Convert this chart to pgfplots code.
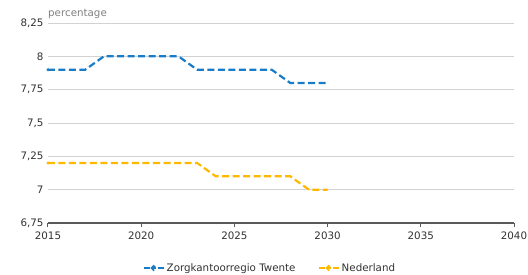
\documentclass[border=0pt]{standalone}
\usepackage{pgfplots}
\pgfplotsset{compat=1.18}
\usepackage{fontspec}
\setmainfont{DejaVu Sans}
\definecolor{cblue}{RGB}{24,124,200}
\definecolor{corange}{RGB}{255,184,0}
\definecolor{cgrid}{RGB}{210,210,210}
\definecolor{caxis}{RGB}{90,90,90}
\definecolor{ctext}{RGB}{50,50,50}
\begin{document}
\begin{tikzpicture}[x=1pt,y=1pt]
\begin{axis}[
  at={(48pt,52pt)}, anchor=south west,
  scale only axis, width=466pt, height=200pt,
  xmin=2015, xmax=2040, ymin=6.75, ymax=8.25,
  xtick={2015,2020,...,2040},
  ytick={6.75,7,7.25,7.5,7.75,8,8.25},
  yticklabels={{6,75},{7},{7,25},{7,5},{7,75},{8},{8,25}},
  /pgf/number format/1000 sep={},
  /pgf/number format/assume math mode=true,
  ticklabel style={font=\fontsize{10.3}{11}\selectfont, text=ctext},
  axis x line*=bottom, axis y line*=left,
  x axis line style={draw=caxis, line width=1.5pt, -},
  y axis line style={draw=none},
  ymajorgrids, grid style={cgrid, line width=0.8pt},
  xtick style={draw=caxis, line width=1pt},
  major x tick style={draw=caxis},
  xtick align=outside, tick pos=left,
  major tick length=4pt,
  ytick style={draw=none},
  yticklabel style={xshift=-1pt},
  xticklabel style={yshift=-1pt},
  clip=false,
  legend columns=2,
  legend style={at={(0.476,-0.225)}, anchor=center, draw=none, fill=none,
    font=\fontsize{10.3}{11}\selectfont, text=ctext,
    /tikz/every even column/.append style={column sep=20pt}},
  legend image code/.code={
    \draw[#1, solid] (0pt,0pt) -- (6pt,0pt);
    \draw[#1, solid] (8pt,0pt) -- (12pt,0pt);
    \draw[#1, solid] (14pt,0pt) -- (20pt,0pt);
    \fill[#1] (10pt,0pt) circle (1.6pt);
  },
]
\addplot[cblue, line width=2.2pt, dash pattern=on 7pt off 3.5pt] coordinates {
 (2015,7.9) (2016,7.9) (2017,7.9) (2018,8.0) (2019,8.0) (2020,8.0) (2021,8.0)
 (2022,8.0) (2023,7.9) (2024,7.9) (2025,7.9) (2026,7.9) (2027,7.9) (2028,7.8)
 (2029,7.8) (2030,7.8)};
\addlegendentry{Zorgkantoorregio Twente}
\addplot[corange, line width=2.2pt, dash pattern=on 7pt off 3.5pt] coordinates {
 (2015,7.2) (2016,7.2) (2017,7.2) (2018,7.2) (2019,7.2) (2020,7.2) (2021,7.2)
 (2022,7.2) (2023,7.2) (2024,7.1) (2025,7.1) (2026,7.1) (2027,7.1) (2028,7.1)
 (2029,7.0) (2030,7.0)};
\addlegendentry{Nederland}
\fill[cblue] (axis cs:2015,7.9) circle (1.6pt);
\fill[corange] (axis cs:2015,7.2) circle (1.6pt);
\node[anchor=south west, inner sep=0pt, font=\fontsize{10.3}{11}\selectfont, text=gray] at (axis description cs:0,1) [yshift=4pt] {percentage};
\end{axis}
\pgfresetboundingbox
\path (0,0) rectangle (528,275);
\end{tikzpicture}
\end{document}
